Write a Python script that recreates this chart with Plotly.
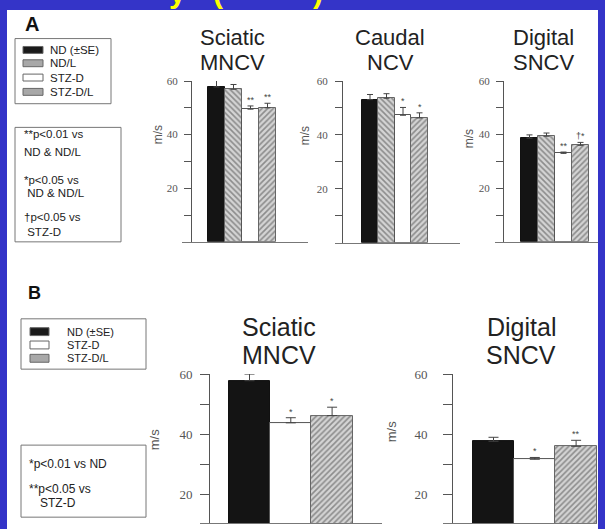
import plotly.graph_objects as go

W, H = 605, 529

# ---- Panel A: four groups ----
groups_a = ["ND", "ND/L", "STZ-D", "STZ-D/L"]
sciatic_a_mean = [57.8, 56.9, 49.5, 50.0]
sciatic_a_se = [2.4, 1.8, 1.2, 1.7]
sciatic_a_sig = ["", "", "**", "**"]
caudal_a_mean = [53.1, 53.6, 47.3, 46.3]
caudal_a_se = [1.9, 1.7, 2.9, 1.9]
caudal_a_sig = ["", "", "*", "*"]
digital_a_mean = [38.7, 39.4, 33.0, 36.0]
digital_a_se = [1.2, 1.2, 0.5, 1.1]
digital_a_sig = ["", "", "**", "†*"]

# ---- Panel B: three groups ----
groups_b = ["ND", "STZ-D", "STZ-D/L"]
sciatic_b_mean = [57.8, 43.8, 46.2]
sciatic_b_se = [2.2, 1.7, 2.8]
sciatic_b_sig = ["", "*", "*"]
digital_b_mean = [37.7, 31.7, 36.0]
digital_b_se = [1.3, 0.6, 2.0]
digital_b_sig = ["", "*", "**"]

tick_a = [10, 20, 30, 40, 50, 60]
tick_a_text = ["", "20", "", "40", "", "60"]
tick_b = [20, 30, 40, 50, 60]
tick_b_text = ["20", "", "40", "", "60"]

legend_a = ["ND (±SE)", "ND/L", "STZ-D", "STZ-D/L"]
notes_a = ["**p<0.01 vs", "ND & ND/L", "*p<0.05 vs", " ND & ND/L", "†p<0.05 vs", " STZ-D"]
legend_b = ["ND (±SE)", "STZ-D", "STZ-D/L"]
notes_b = ["*p<0.01 vs ND", "**p<0.05 vs", "STZ-D"]

# fill style per group
STYLE = {
    "ND": dict(fill="#141414", shape="", line="#111111", swatch="#1a1a1a"),
    "ND/L": dict(fill="#d4d4d4", shape="\\", line="#666666", swatch="#a8a8a8"),
    "STZ-D": dict(fill="#ffffff", shape="", line="#555555", swatch="#ffffff"),
    "STZ-D/L": dict(fill="#d4d4d4", shape="/", line="#666666", swatch="#a8a8a8"),
}

SANS = "Liberation Sans, Arial, sans-serif"
SERIF = "Liberation Serif, Times New Roman, serif"
BLUE = "#3434c8"


def px(x):
    return x / W


def py(y):
    return 1 - y / H


fig = go.Figure()
annotations = []
shapes = []


def add_panel(idx, groups, mean, se, sig, base_l, base_r, yax_px, c0, step,
              y_lo_px, y_hi_px, yr, tv, tt, tfs, tlen, standoff, ebw):
    xa = "x" if idx == 1 else f"x{idx}"
    ya = "y" if idx == 1 else f"y{idx}"
    n = len(groups)
    fig.add_trace(go.Bar(
        x=list(range(n)), y=mean, width=1,
        marker=dict(
            color=[STYLE[g]["fill"] for g in groups],
            line=dict(color=[STYLE[g]["line"] for g in groups], width=1),
            pattern=dict(shape=[STYLE[g]["shape"] for g in groups],
                         fillmode="overlay", fgcolor="#5e5e5e",
                         size=4, solidity=0.4),
        ),
        error_y=dict(type="data", symmetric=False, array=se,
                     arrayminus=[0] * n, color="#444444",
                     thickness=1, width=ebw),
        xaxis=xa, yaxis=ya, cliponaxis=False,
        showlegend=False, hoverinfo="skip",
    ))
    key = "" if idx == 1 else str(idx)
    fig.update_layout(**{
        f"xaxis{key}": dict(
            domain=[px(base_l), px(base_r)],
            range=[(base_l - c0) / step, (base_r - c0) / step],
            anchor=ya, showline=True, linecolor="#777777", linewidth=1,
            showticklabels=False, ticks="", showgrid=False, zeroline=False,
        ),
        f"yaxis{key}": dict(
            domain=[py(y_lo_px), py(y_hi_px)], range=yr,
            anchor="free", position=px(yax_px),
            showline=True, linecolor="#555555", linewidth=1,
            ticks="outside", ticklen=tlen, tickcolor="#555555",
            tickvals=tv, ticktext=tt, ticklabelstandoff=standoff,
            tickfont=dict(family=SERIF, size=tfs, color="#555555"),
            showgrid=False, zeroline=False,
        ),
    })
    for i in range(n):
        if sig[i]:
            annotations.append(dict(
                x=i, y=mean[i] + se[i], xref=xa, yref=ya, text=sig[i],
                showarrow=False, yanchor="bottom", yshift=-1,
                font=dict(family=SANS, size=9, color="#444444"),
            ))


add_panel(1, groups_a, sciatic_a_mean, sciatic_a_se, sciatic_a_sig,
          182, 308, 191, 216.5, 17, 238, 75, [0, 60], tick_a, tick_a_text,
          11, 7, 4, 3)
add_panel(2, groups_a, caudal_a_mean, caudal_a_se, caudal_a_sig,
          335, 460, 342, 370, 16.5, 239, 75, [0, 60], tick_a, tick_a_text,
          11, 7, 5, 3)
add_panel(3, groups_a, digital_a_mean, digital_a_se, digital_a_sig,
          495, 598, 503, 529.5, 17, 238, 75, [0, 60], tick_a, tick_a_text,
          11, 7, 4, 3)
add_panel(4, groups_b, sciatic_b_mean, sciatic_b_se, sciatic_b_sig,
          200, 382, 209, 249.5, 41.3, 523, 372, [10.5, 60], tick_b, tick_b_text,
          13, 9, 5, 5)
add_panel(5, groups_b, digital_b_mean, digital_b_se, digital_b_sig,
          443, 597, 452, 493.5, 41.3, 523, 372, [10.5, 60], tick_b, tick_b_text,
          13, 9, 13, 5)


def text(x, y, s, size, color="#222222", xanchor="center", yanchor="middle",
         family=SANS, angle=0):
    annotations.append(dict(
        x=px(x), y=py(y), xref="paper", yref="paper", text=s,
        showarrow=False, xanchor=xanchor, yanchor=yanchor, textangle=angle,
        font=dict(family=family, size=size, color=color),
    ))


# slide frame: blue border around a white page
shapes.append(dict(type="rect", xref="paper", yref="paper", x0=0, x1=1, y0=0, y1=1,
                   fillcolor=BLUE, line=dict(width=0), layer="below"))
shapes.append(dict(type="rect", xref="paper", yref="paper",
                   x0=px(7), x1=px(598), y0=0, y1=py(3),
                   fillcolor="white", line=dict(width=0), layer="below"))

# slide heading running off the top edge
for xx, s in [(177, "y"), (218, "("), (318, ")")]:
    annotations.append(dict(
        x=px(xx), y=py(3), xref="paper", yref="paper", text=f"<b>{s}</b>",
        showarrow=False, xanchor="center", yanchor="bottom", borderpad=0,
        font=dict(family=SANS, size=30, color="#ffff00"),
    ))

# panel letters
text(32, 17, "<b>A</b>", 20, "#111111")
text(34, 290, "<b>B</b>", 18, "#111111")

# chart titles
for cx, l1, l2 in [(232, "Sciatic", "MNCV"), (390, "Caudal", "NCV"),
                   (543, "Digital", "SNCV")]:
    text(cx, 30.5, l1, 22)
    text(cx, 56, l2, 22)
for cx, l1, l2 in [(279, "Sciatic", "MNCV"), (521, "Digital", "SNCV")]:
    text(cx, 324, l1, 25)
    text(cx, 353, l2, 25)

# y-axis labels
for x, y, s in [(158, 130, 12), (305, 131, 12), (469, 134, 12),
                (154, 438, 13), (391, 431, 13)]:
    text(x, y, "m/s", s, "#555555", angle=-90)


def box(x0, y0, x1, y1):
    shapes.append(dict(type="rect", xref="paper", yref="paper",
                       x0=px(x0), x1=px(x1), y0=py(y1), y1=py(y0),
                       fillcolor="white", line=dict(color="#777777", width=1)))


def swatch(x0, x1, yc, h, group):
    st = STYLE[group]
    shapes.append(dict(type="rect", xref="paper", yref="paper",
                       x0=px(x0), x1=px(x1), y0=py(yc + h / 2), y1=py(yc - h / 2),
                       fillcolor=st["swatch"], line=dict(color="#666666", width=1)))


# panel A legend and notes
box(15, 32, 111, 98)
for g, lab, yc in zip(groups_a, legend_a, [43.5, 57, 71.5, 86]):
    swatch(23, 43, yc, 7, g)
    text(48, yc, lab, 11.5, xanchor="left")
box(15, 122, 121, 238)
for s, yc in zip(notes_a, [129, 147, 175, 189, 213, 228]):
    text(22, yc, s, 11.5, xanchor="left")

# panel B legend and notes
box(21, 316, 146, 367)
for g, lab, yc in zip(groups_b, legend_b, [329, 342.5, 356]):
    swatch(30, 49, yc, 8, g)
    text(65, yc, lab, 11, xanchor="left")
box(21, 444, 146, 517)
text(27, 463, notes_b[0], 12, xanchor="left")
text(27, 488, notes_b[1], 12, xanchor="left")
text(38, 503, notes_b[2], 12, xanchor="left")

fig.update_layout(
    width=W, height=H, margin=dict(l=0, r=0, t=0, b=0),
    paper_bgcolor=BLUE, plot_bgcolor="rgba(0,0,0,0)",
    bargap=0, showlegend=False,
    annotations=annotations, shapes=shapes,
)

fig.write_html("out.html")
